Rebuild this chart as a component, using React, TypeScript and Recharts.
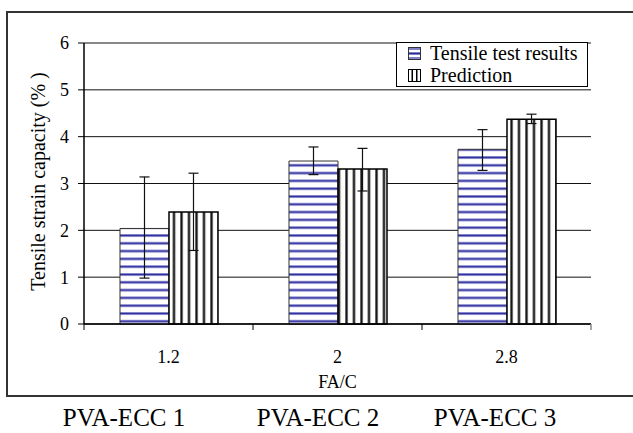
import React from 'react';
import { BarChart, Bar, XAxis, YAxis, CartesianGrid, ErrorBar, Legend } from 'recharts';

const categories = ['1.2', '2', '2.8'];
const testResults = [2.04, 3.48, 3.73];
const testErrLow = [1.06, 0.29, 0.45];
const testErrHigh = [1.1, 0.3, 0.42];
const prediction = [2.39, 3.31, 4.37];
const predErrLow = [0.82, 0.47, 0.09];
const predErrHigh = [0.83, 0.44, 0.11];
const yTicks = [0, 1, 2, 3, 4, 5, 6];
const seriesNames = ['Tensile test results', 'Prediction'];
const sampleNames = ['PVA-ECC 1', 'PVA-ECC 2', 'PVA-ECC 3'];
const sampleCenters = [124, 318, 495];

const data = categories.map((c, i) => ({
  fac: c,
  test: testResults[i],
  testErr: [testErrLow[i], testErrHigh[i]],
  pred: prediction[i],
  predErr: [predErrLow[i], predErrHigh[i]],
}));

const SERIF = 'Liberation Serif, Tinos, DejaVu Serif, serif';

const CatTick = (props: any) => {
  const { x, y, payload, index } = props;
  const half = payload && typeof payload.offset === 'number' ? payload.offset : 0;
  const axisY = y - 8;
  return (
    <g>
      <line x1={x - half} x2={x - half} y1={axisY} y2={axisY + 6} stroke="#000" strokeWidth={1} />
      {index === categories.length - 1 && (
        <line x1={x + half} x2={x + half} y1={axisY} y2={axisY + 6} stroke="#888" strokeWidth={1.5} />
      )}
      <text x={x} y={axisY + 33} textAnchor="middle" dominantBaseline="central" fontSize={18} style={{ fontFamily: SERIF }} fill="#000">
        {payload.value}
      </text>
    </g>
  );
};

const XLabel = (props: any) => {
  const vb = props.viewBox || {};
  return (
    <text x={vb.x + vb.width / 2} y={vb.y + 58} textAnchor="middle" dominantBaseline="central" fontSize={18} style={{ fontFamily: SERIF }} fill="#000">
      FA/C
    </text>
  );
};

const YLabel = (props: any) => {
  const vb = props.viewBox || {};
  const cx = vb.x + 38;
  const cy = vb.y + vb.height / 2 - 2;
  return (
    <text x={cx} y={cy} transform={`rotate(-90, ${cx}, ${cy})`} textAnchor="middle" dominantBaseline="central" fontSize={20} style={{ fontFamily: SERIF }} fill="#000">
      Tensile strain capacity (% )
    </text>
  );
};

const TestIcon = () => (
  <svg width={13} height={13} style={{ marginRight: 9, flex: 'none' }}>
    <rect x={0.5} y={0.5} width={12} height={12} fill="#fff" stroke="#333" />
    <rect x={1} y={1} width={11} height={2} fill="#8080c8" />
    <rect x={1} y={5} width={11} height={3} fill="#8080c8" />
    <rect x={1} y={6} width={11} height={1} fill="#2a2a9a" />
    <rect x={1} y={10} width={11} height={2} fill="#8080c8" />
  </svg>
);

const PredIcon = () => (
  <svg width={13} height={13} style={{ marginRight: 9, flex: 'none' }}>
    <rect x={0.5} y={0.5} width={12} height={12} fill="#fff" stroke="#000" />
    <rect x={3.5} y={1} width={1.5} height={11} fill="#000" />
    <rect x={8} y={1} width={1.5} height={11} fill="#000" />
  </svg>
);

const renderLegend = () => (
  <div
    style={{
      border: '1px solid #000',
      background: '#fff',
      width: 192,
      height: 45,
      boxSizing: 'border-box',
      paddingLeft: 11,
      paddingTop: 0,
      fontFamily: SERIF,
      fontSize: 20,
      color: '#000',
    }}
  >
    {seriesNames.map((n, i) => (
      <div key={n} style={{ display: 'flex', alignItems: 'center', height: 21.5, lineHeight: '21.5px', whiteSpace: 'nowrap' }}>
        {i === 0 ? <TestIcon /> : <PredIcon />}
        <span>{n}</span>
      </div>
    ))}
  </div>
);

export default function App() {
  return (
    <div style={{ position: 'absolute', left: 0, top: 0, width: 633, height: 433, overflow: 'hidden', background: '#fff', fontFamily: SERIF }}>
      <div
        style={{
          position: 'absolute',
          left: 6,
          top: 11,
          width: 660,
          height: 386,
          border: '2px solid #333',
          boxSizing: 'border-box',
        }}
      />
      <div style={{ position: 'absolute', left: 0, top: 0 }}>
        <BarChart
          width={633}
          height={400}
          data={data}
          margin={{ top: 43, right: 42, left: 0, bottom: 4 }}
          barCategoryGap="21.3%"
          barGap={0}
        >
          <defs>
            <pattern id="hstripe" patternUnits="userSpaceOnUse" width={8} height={7.8}>
              <rect x={0} y={0} width={8} height={7.8} fill="#fff" />
              <rect x={0} y={0} width={8} height={3} fill="#9a9ad6" />
              <rect x={0} y={0.8} width={8} height={1.4} fill="#2e2e9e" />
            </pattern>
            <pattern id="vstripe" patternUnits="userSpaceOnUse" width={7.5} height={10}>
              <rect x={0} y={0} width={7.5} height={10} fill="#fff" />
              <rect x={0} y={0} width={3} height={10} fill="#999" />
              <rect x={0.6} y={0} width={1.8} height={10} fill="#111" />
            </pattern>
          </defs>
          <CartesianGrid vertical={false} stroke="#111" strokeWidth={1} />
          <XAxis
            dataKey="fac"
            height={72}
            tickLine={false}
            axisLine={{ stroke: '#000', strokeWidth: 1.5 }}
            tick={<CatTick />}
            interval={0}
            label={<XLabel />}
          />
          <XAxis
            xAxisId="top"
            dataKey="fac"
            orientation="top"
            height={0}
            tick={false}
            tickLine={false}
            axisLine={{ stroke: '#999', strokeWidth: 1.5 }}
          />
          <YAxis
            width={84}
            domain={[0, 6]}
            ticks={yTicks}
            interval={0}
            tickSize={6}
            tickMargin={9}
            tickLine={{ stroke: '#000' }}
            axisLine={{ stroke: '#000', strokeWidth: 1.5 }}
            tick={{ fontSize: 18, fill: '#000', style: { fontFamily: SERIF } }}
            label={<YLabel />}
          />
          <YAxis
            yAxisId="right"
            orientation="right"
            width={0}
            domain={[0, 6]}
            tick={false}
            tickLine={false}
            axisLine={{ stroke: '#aaa', strokeWidth: 2 }}
          />
          <Legend
            layout="vertical"
            align="center"
            verticalAlign="middle"
            content={renderLegend}
            wrapperStyle={{ left: 396, top: 42, width: 192, height: 45 }}
          />
          <Bar dataKey="test" name={seriesNames[0]} fill="url(#hstripe)" stroke="#333" strokeWidth={1} isAnimationActive={false}>
            <ErrorBar dataKey="testErr" width={5} stroke="#111" strokeWidth={1.2} direction="y" isAnimationActive={false} />
          </Bar>
          <Bar dataKey="pred" name={seriesNames[1]} fill="url(#vstripe)" stroke="#000" strokeWidth={1.5} isAnimationActive={false}>
            <ErrorBar dataKey="predErr" width={5} stroke="#111" strokeWidth={1.2} direction="y" isAnimationActive={false} />
          </Bar>
        </BarChart>
      </div>
      {sampleNames.map((s, i) => (
        <div
          key={s}
          style={{
            position: 'absolute',
            left: sampleCenters[i] - 90,
            width: 180,
            top: 404,
            height: 28,
            textAlign: 'center',
            fontFamily: SERIF,
            fontSize: 25,
            lineHeight: '28px',
            color: '#000',
            whiteSpace: 'nowrap',
          }}
        >
          {s}
        </div>
      ))}
    </div>
  );
}
